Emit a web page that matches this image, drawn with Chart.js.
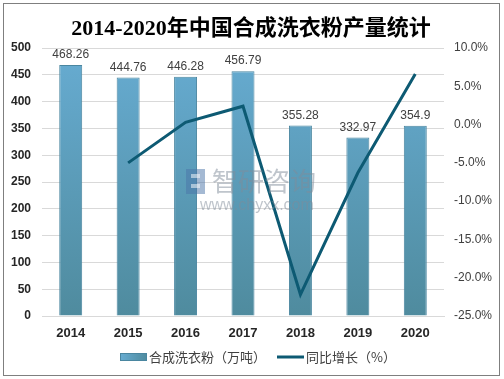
<!DOCTYPE html>
<html>
<head>
<meta charset="utf-8">
<script src="https://cdn.jsdelivr.net/npm/chart.js@4"></script>
<style>
  body { margin: 0; background: #fff; }
  #wrap { position: absolute; left: 0; top: 0; width: 504px; height: 379px; }
  #frame { position: absolute; left: 3px; top: 3px; width: 495px; height: 371px; border: 1px solid #7f7f7f; pointer-events: none; }
</style>
</head>
<body>
<div id="wrap">
  <canvas id="c" width="504" height="379"></canvas>
  <div id="frame"></div>
</div>
<script>
// data
const years = ['2014', '2015', '2016', '2017', '2018', '2019', '2020'];
const output = [468.26, 444.76, 446.28, 456.79, 355.28, 332.97, 354.9];
const growth = [null, -5.0, 0.3, 2.4, -22.2, -6.3, 6.6];
const leftTicks = [0, 50, 100, 150, 200, 250, 300, 350, 400, 450, 500];
const rightTicks = [-25, -20, -15, -10, -5, 0, 5, 10];

const titleText = '2014-2020年中国合成洗衣粉产量统计';
const barName = '合成洗衣粉（万吨）';
const lineName = '同比增长（%）';

const sansFont = '"Liberation Sans", "Noto Sans CJK SC", sans-serif';

function barGradient(ctx, area) {
  const g = ctx.createLinearGradient(0, area.top, 0, area.bottom);
  g.addColorStop(0, '#67acd2');
  g.addColorStop(1, '#4f8b9e');
  return g;
}

// title, data labels, watermark, legend
const extras = {
  id: 'extras',
  afterDatasetsDraw(chart) {
    const ctx = chart.ctx;
    // bar value labels
    const meta = chart.getDatasetMeta(0);
    ctx.save();
    ctx.font = '12px ' + sansFont;
    ctx.fillStyle = '#404040';
    ctx.textAlign = 'center';
    ctx.textBaseline = 'bottom';
    meta.data.forEach((bar, i) => {
      ctx.fillText(String(output[i]), bar.x, bar.y - 4);
    });
    ctx.restore();

    // watermark
    ctx.save();
    ctx.globalAlpha = 0.5;
    ctx.fillStyle = '#4a74a8';
    ctx.fillRect(186, 169, 19, 25);
    ctx.fillStyle = '#fff';
    ctx.fillRect(191, 174, 9, 4);
    ctx.fillRect(191, 184, 9, 4);
    ctx.fillStyle = '#7f8c99';
    ctx.font = '26px "Noto Sans CJK SC", sans-serif';
    ctx.textBaseline = 'middle';
    ctx.textAlign = 'left';
    ctx.fillText('智研咨询', 212, 181);
    ctx.font = '16px ' + sansFont;
    ctx.fillText('www.chyxx.com', 200, 206);
    ctx.restore();
  },
  afterDraw(chart) {
    const ctx = chart.ctx;
    ctx.save();
    // title
    ctx.fillStyle = '#000';
    ctx.font = 'bold 22px "Liberation Serif", "Noto Sans CJK SC", serif';
    ctx.textAlign = 'center';
    ctx.textBaseline = 'middle';
    ctx.fillText(titleText, 251, 29);

    // legend
    const ly = 357;
    const lg = ctx.createLinearGradient(120, 0, 147, 0);
    lg.addColorStop(0, '#67acd2');
    lg.addColorStop(1, '#4f8b9e');
    ctx.fillStyle = lg;
    ctx.fillRect(120, ly - 4, 27, 8);
    ctx.strokeStyle = '#4a86a0';
    ctx.lineWidth = 1;
    ctx.strokeRect(120.5, ly - 3.5, 26, 7);
    ctx.font = '13px "Noto Sans CJK SC", sans-serif';
    ctx.fillStyle = '#404040';
    ctx.textAlign = 'left';
    ctx.fillText(barName, 149, ly);
    ctx.strokeStyle = '#0d5a73';
    ctx.lineWidth = 3;
    ctx.beginPath();
    ctx.moveTo(277, ly);
    ctx.lineTo(304, ly);
    ctx.stroke();
    ctx.fillText(lineName, 306, ly);
    ctx.restore();
  }
};

new Chart(document.getElementById('c'), {
  data: {
    labels: years,
    datasets: [
      {
        type: 'bar',
        label: barName,
        data: output,
        yAxisID: 'y',
        order: 2,
        backgroundColor: (c) => c.chart.chartArea ? barGradient(c.chart.ctx, c.chart.chartArea) : '#5c9cbd',
        borderColor: '#4a86a0',
        borderWidth: 1,
        barPercentage: 0.4,
        categoryPercentage: 1
      },
      {
        type: 'line',
        label: lineName,
        data: growth,
        yAxisID: 'y1',
        order: 1,
        borderColor: '#0d5a73',
        borderWidth: 3,
        pointRadius: 0,
        tension: 0,
        fill: false
      }
    ]
  },
  options: {
    responsive: false,
    animation: false,
    layout: { padding: { top: 48, bottom: 33, left: 0, right: 0 } },
    plugins: {
      legend: { display: false },
      title: { display: false },
      tooltip: { enabled: false }
    },
    scales: {
      x: {
        grid: { display: false, drawTicks: false },
        border: { color: '#d9d9d9' },
        ticks: { color: '#262626', font: { family: sansFont, size: 13, weight: 'bold' }, padding: 10 },
        afterFit: (s) => { s.height = 30; }
      },
      y: {
        position: 'left',
        min: 0, max: 500,
        afterBuildTicks: (s) => { s.ticks = leftTicks.map(v => ({ value: v })); },
        grid: { color: '#d9d9d9', drawTicks: false },
        border: { display: false },
        ticks: { color: '#262626', font: { family: sansFont, size: 12, weight: 'bold' }, padding: 11 },
        afterFit: (s) => { s.width = 42; }
      },
      y1: {
        position: 'right',
        min: -25, max: 10,
        afterBuildTicks: (s) => { s.ticks = rightTicks.map(v => ({ value: v })); },
        grid: { display: false, drawTicks: false },
        border: { display: false },
        ticks: {
          color: '#404040',
          font: { family: sansFont, size: 12 },
          padding: 10,
          callback: (v) => v.toFixed(1) + '%'
        },
        afterFit: (s) => { s.width = 60; }
      }
    }
  },
  plugins: [extras]
});
</script>
</body>
</html>
